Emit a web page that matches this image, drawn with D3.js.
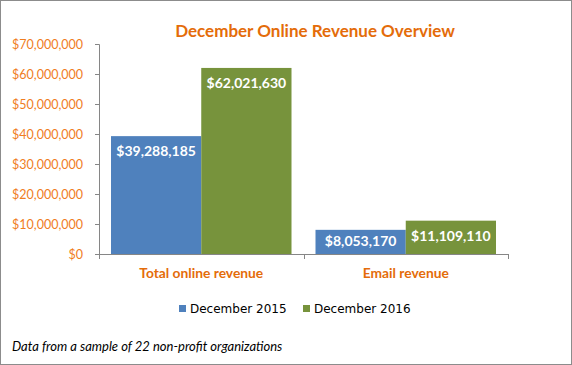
<!DOCTYPE html>
<html>
<head>
<meta charset="utf-8">
<script src="https://cdn.jsdelivr.net/npm/d3@7"></script>
<style>
  body { margin: 0; background: #fff; }
  svg { display: block; }
</style>
</head>
<body>
<div id="chart"></div>
<script>
// chart values
var categories = ["Total online revenue", "Email revenue"];
var seriesNames = ["December 2015", "December 2016"];
var dec2015 = [39288185, 8053170];
var dec2016 = [62021630, 11109110];
var yTicks = [0, 10000000, 20000000, 30000000, 40000000, 50000000, 60000000, 70000000];

var width = 572, height = 365;
var margin = { top: 44, right: 64, bottom: 111, left: 99 };
var colors = ["#4F81BD", "#77933C"];

var svg = d3.select("#chart").append("svg")
    .attr("width", width)
    .attr("height", height);

// outer frame
svg.append("rect")
    .attr("x", 0.5).attr("y", 0.5)
    .attr("width", width - 1).attr("height", height - 1)
    .attr("fill", "#fff")
    .attr("stroke", "#8c8c8c");

var x0 = d3.scaleBand()
    .domain(categories)
    .range([margin.left, width - margin.right])
    .paddingInner(0)
    .paddingOuter(0);

// 12px gap on each side of a pair of bars
var x1 = d3.scaleBand()
    .domain(seriesNames)
    .range([12, x0.bandwidth() - 12])
    .paddingOuter(0)
    .paddingInner(0);

var y = d3.scaleLinear()
    .domain([0, 70000000])
    .range([height - margin.bottom, margin.top]);

var money = d3.format("$,");

// y axis
var yAxis = svg.append("g")
    .attr("transform", "translate(" + margin.left + ",0)")
    .call(d3.axisLeft(y).tickValues(yTicks).tickFormat(money).tickSize(4).tickPadding(12));
yAxis.select(".domain").attr("stroke", "#868686");
yAxis.selectAll(".tick line").attr("stroke", "#868686");
yAxis.selectAll("text")
    .attr("fill", "#F07D1E")
    .style("font-family", "'Century Gothic', 'Lato', sans-serif")
    .style("font-size", "12.5px");

// x axis
var xAxis = svg.append("g")
    .attr("transform", "translate(0," + y(0) + ")")
    .call(d3.axisBottom(x0).tickSize(0).tickPadding(14));
xAxis.select(".domain").attr("stroke", "#868686");
xAxis.selectAll("text")
    .attr("fill", "#E46C0A")
    .style("font-family", "'Century Gothic', 'Lato', sans-serif")
    .style("font-weight", "bold")
    .style("font-size", "13.8px");

// category divider ticks
var edges = [margin.left, margin.left + x0.bandwidth(), width - margin.right];
svg.append("g").selectAll("line")
    .data(edges)
    .enter().append("line")
    .attr("x1", function (d) { return Math.round(d) + 0.5; })
    .attr("x2", function (d) { return Math.round(d) + 0.5; })
    .attr("y1", y(0))
    .attr("y2", y(0) + 5)
    .attr("stroke", "#868686");

// bars
var rows = categories.map(function (c, i) {
    return { cat: c, values: [dec2015[i], dec2016[i]] };
});

var group = svg.append("g").selectAll("g")
    .data(rows)
    .enter().append("g")
    .attr("transform", function (d) { return "translate(" + x0(d.cat) + ",0)"; });

var bar = group.selectAll("g")
    .data(function (d) {
        return d.values.map(function (v, j) { return { name: seriesNames[j], value: v, j: j }; });
    })
    .enter().append("g");

bar.append("rect")
    .attr("x", function (d) { return x1(d.name); })
    .attr("y", function (d) { return y(d.value); })
    .attr("width", x1.bandwidth())
    .attr("height", function (d) { return y(0) - y(d.value); })
    .attr("fill", function (d) { return colors[d.j]; });

bar.append("text")
    .attr("x", function (d) { return x1(d.name) + x1.bandwidth() / 2; })
    .attr("y", function (d) {
        var top = y(d.value);
        return Math.min(top + 15, (top + y(0)) / 2 - 1);
    })
    .attr("dy", "0.35em")
    .attr("text-anchor", "middle")
    .attr("fill", "#fff")
    .style("font-family", "'Century Gothic', 'Lato', sans-serif")
    .style("font-weight", "bold")
    .style("font-size", "14px")
    .text(function (d) { return money(d.value); });

// title
svg.append("text")
    .attr("x", 315)
    .attr("y", 37)
    .attr("text-anchor", "middle")
    .attr("fill", "#E46C0A")
    .style("font-family", "'Century Gothic', 'Lato', sans-serif")
    .style("font-weight", "bold")
    .style("font-size", "17px")
    .text("December Online Revenue Overview");

// legend
var legend = svg.append("g").selectAll("g")
    .data(seriesNames)
    .enter().append("g")
    .attr("transform", function (d, i) { return "translate(" + (179 + i * 124) + ",305)"; });

legend.append("rect")
    .attr("width", 7).attr("height", 7)
    .attr("fill", function (d, i) { return colors[i]; });

legend.append("text")
    .attr("x", 11)
    .attr("y", 4)
    .attr("dy", "0.35em")
    .attr("fill", "#000")
    .style("font-family", "'DejaVu Sans', sans-serif")
    .style("font-size", "12px")
    .text(function (d) { return d; });

// footnote
svg.append("text")
    .attr("x", 12)
    .attr("y", 351)
    .attr("fill", "#000")
    .style("font-family", "'Lato', sans-serif")
    .style("font-style", "italic")
    .style("font-size", "13px")
    .text("Data from a sample of 22 non-profit organizations");
</script>
</body>
</html>
